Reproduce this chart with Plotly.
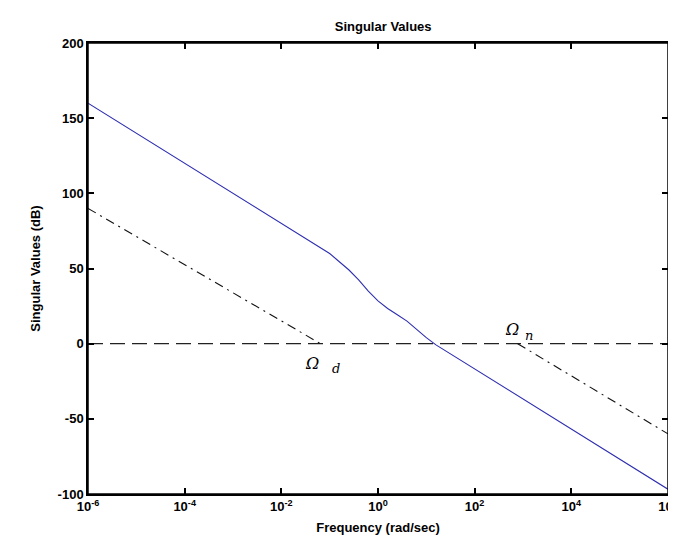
import plotly.graph_objects as go

# Blue singular value curve (log10 frequency, dB)
sv_logw = [-6, -5, -4, -3, -2, -1.5, -1, -0.8, -0.6, -0.4, -0.2, 0, 0.2, 0.4, 0.6, 0.8, 1, 1.2, 1.5, 2, 3, 4, 5, 6]
sv_db = [160, 140, 120, 100, 80, 70, 60, 54.5, 49, 42.5, 35, 28.5, 23.4, 19.2, 15, 9.5, 4, -0.8, -6.8, -16.8, -36.8, -56.8, -76.8, -96.8]

# Omega_d bound
od_logw = [-6, -1.19]
od_db = [90, 0]

# Omega_n bound
on_logw = [2.89, 6]
on_db = [0, -60]

zero_logw = [-6, 6]
zero_db = [0, 0]

tick_exp = [-6, -4, -2, 0, 2, 4, 6]
tick_text = ["<b>10<sup>%d</sup></b>" % e for e in tick_exp]
y_ticks = [-100, -50, 0, 50, 100, 150, 200]

fig = go.Figure()
fig.add_trace(go.Scatter(x=[10**v for v in zero_logw], y=zero_db, mode="lines",
                         line=dict(color="#222222", width=1.3, dash="15px,7px")))
fig.add_trace(go.Scatter(x=[10**v for v in od_logw], y=od_db, mode="lines",
                         line=dict(color="#111111", width=1.1, dash="9px,5px,2px,5px")))
fig.add_trace(go.Scatter(x=[10**v for v in on_logw], y=on_db, mode="lines",
                         line=dict(color="#111111", width=1.1, dash="9px,5px,2px,5px")))
fig.add_trace(go.Scatter(x=[10**v for v in sv_logw], y=sv_db, mode="lines",
                         line=dict(color="#2e2eb0", width=1.1)))

axis_common = dict(showline=True, linecolor="black", linewidth=1.5, mirror="ticks",
                   ticks="inside", ticklen=6, tickcolor="black", tickwidth=1.5,
                   showgrid=False, zeroline=False,
                   tickfont=dict(family="Liberation Sans", size=13, color="black"))

fig.update_xaxes(type="log", range=[-6, 6.001], tickvals=[10**e for e in tick_exp],
                 ticktext=tick_text, ticklabeloverflow="allow",
                 title=dict(text="<b>Frequency (rad/sec)</b>",
                            font=dict(family="Liberation Sans", size=13, color="black"),
                            standoff=10),
                 **axis_common)
fig.update_yaxes(range=[-100, 200], tickvals=y_ticks,
                 ticktext=["<b>%d</b>" % v for v in y_ticks],
                 title=dict(text="<b>Singular Values (dB)</b>",
                            font=dict(family="Liberation Sans", size=13, color="black"),
                            standoff=14),
                 **axis_common)

fig.add_shape(type="rect", xref="paper", yref="paper", x0=0, y0=0, x1=1, y1=1,
              line=dict(color="black", width=1.5), layer="above")

ann_font = dict(family="DejaVu Serif", size=16, color="black")
sub_font = dict(family="DejaVu Serif", size=13, color="black")
annotations = [
    dict(x=-1.36, y=-13.5, text="<i>Ω</i>", font=ann_font),
    dict(x=-0.87, y=-16.5, text="<i>d</i>", font=sub_font),
    dict(x=2.77, y=9.5, text="<i>Ω</i>", font=ann_font),
    dict(x=3.13, y=5.5, text="<i>n</i>", font=sub_font),
]
for a in annotations:
    a.update(xref="x", yref="y", showarrow=False)

fig.update_layout(
    width=676, height=545,
    margin=dict(l=80, r=6, t=35, b=59),
    paper_bgcolor="white", plot_bgcolor="white",
    showlegend=False,
    title=dict(text="<b>Singular Values</b>", x=0.555, xanchor="center", y=0.967,
               yanchor="middle",
               font=dict(family="Liberation Sans", size=13, color="black")),
    annotations=annotations,
)

fig.write_html("out.html")
